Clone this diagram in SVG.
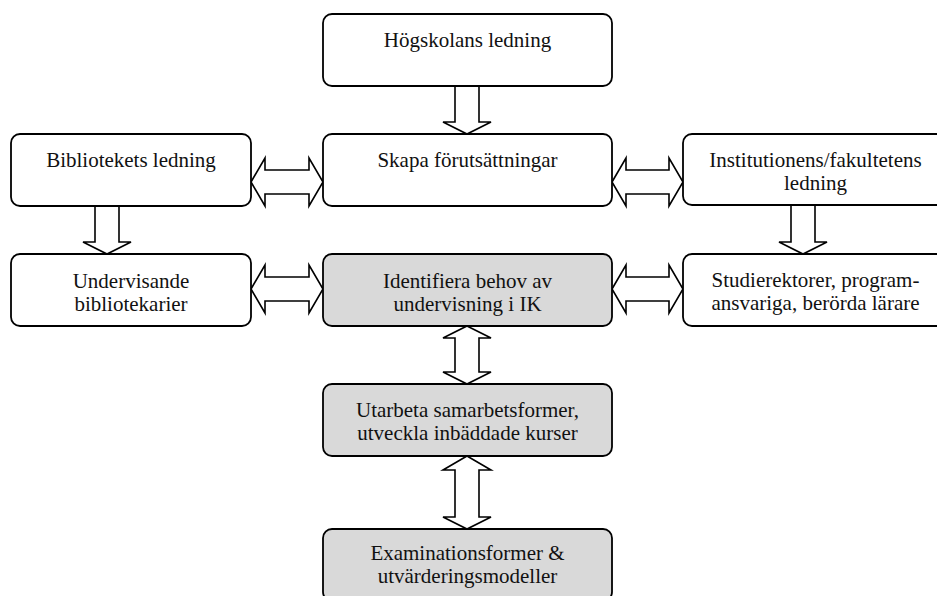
<svg xmlns="http://www.w3.org/2000/svg" width="937" height="596" viewBox="0 0 937 596">
<style>
.box{fill:#ffffff;stroke:#000000;stroke-width:1.8}
.hl{fill:#d9d9d9}
.arr{fill:#ffffff;stroke:#000000;stroke-width:1.6;stroke-linejoin:miter}
text{font-family:"Liberation Serif","Times New Roman",serif;font-size:21px;fill:#111111;text-anchor:middle}
</style>
<rect width="937" height="596" fill="#ffffff"/>
<g id="connectors">
<polygon class="arr" points="455,86 479,86 479,122 491,122 467,134 443,122 455,122"/>
<polygon class="arr" points="95,206 119,206 119,242 131,242 107,254 83,242 95,242"/>
<polygon class="arr" points="791,205 815,205 815,242 827,242 803,254 779,242 791,242"/>
<polygon class="arr" points="251,182 265,158 265,170 309,170 309,158 323,182 309,206 309,194 265,194 265,206"/>
<polygon class="arr" points="612,182 626,158 626,170 669,170 669,158 683,182 669,206 669,194 626,194 626,206"/>
<polygon class="arr" points="251,289 265,265 265,277 309,277 309,265 323,289 309,313 309,301 265,301 265,313"/>
<polygon class="arr" points="612,289 626,265 626,277 669,277 669,265 683,289 669,313 669,301 626,301 626,313"/>
<polygon class="arr" points="467,326 491,338 479,338 479,372 491,372 467,384 443,372 455,372 455,338 443,338"/>
<polygon class="arr" points="467,456 491,470 479,470 479,517 491,517 467,529 443,517 455,517 455,470 443,470"/>
</g>
<g id="hogskolan">
<rect class="box" x="323" y="14" width="289" height="72" rx="9"/>
<text x="467.5" y="47">Högskolans ledning</text>
</g>
<g id="bibliotek">
<rect class="box" x="11" y="134" width="240" height="72" rx="9"/>
<text x="131" y="167">Bibliotekets ledning</text>
</g>
<g id="skapa">
<rect class="box" x="323" y="134" width="289" height="72" rx="9"/>
<text x="467.5" y="167">Skapa förutsättningar</text>
</g>
<g id="institution">
<rect class="box" x="683" y="134" width="265" height="71" rx="9"/>
<text x="815.5" y="167">Institutionens/fakultetens</text>
<text x="815.5" y="190">ledning</text>
</g>
<g id="undervisande">
<rect class="box" x="11" y="254" width="240" height="72" rx="9"/>
<text x="131" y="288">Undervisande</text>
<text x="131" y="311">bibliotekarier</text>
</g>
<g id="identifiera">
<rect class="box hl" x="323" y="254" width="289" height="72" rx="9"/>
<text x="467.5" y="288">Identifiera behov av</text>
<text x="467.5" y="311">undervisning i IK</text>
</g>
<g id="studierektorer">
<rect class="box" x="683" y="254" width="265" height="72" rx="9"/>
<text x="815.5" y="287">Studierektorer, program-</text>
<text x="815.5" y="310">ansvariga, berörda lärare</text>
</g>
<g id="utarbeta">
<rect class="box hl" x="323" y="384" width="289" height="72" rx="9"/>
<text x="467.5" y="417">Utarbeta samarbetsformer,</text>
<text x="467.5" y="440">utveckla inbäddade kurser</text>
</g>
<g id="examination">
<rect class="box hl" x="323" y="529" width="289" height="72" rx="9"/>
<text x="467.5" y="560">Examinationsformer &amp;</text>
<text x="467.5" y="583">utvärderingsmodeller</text>
</g>
</svg>
